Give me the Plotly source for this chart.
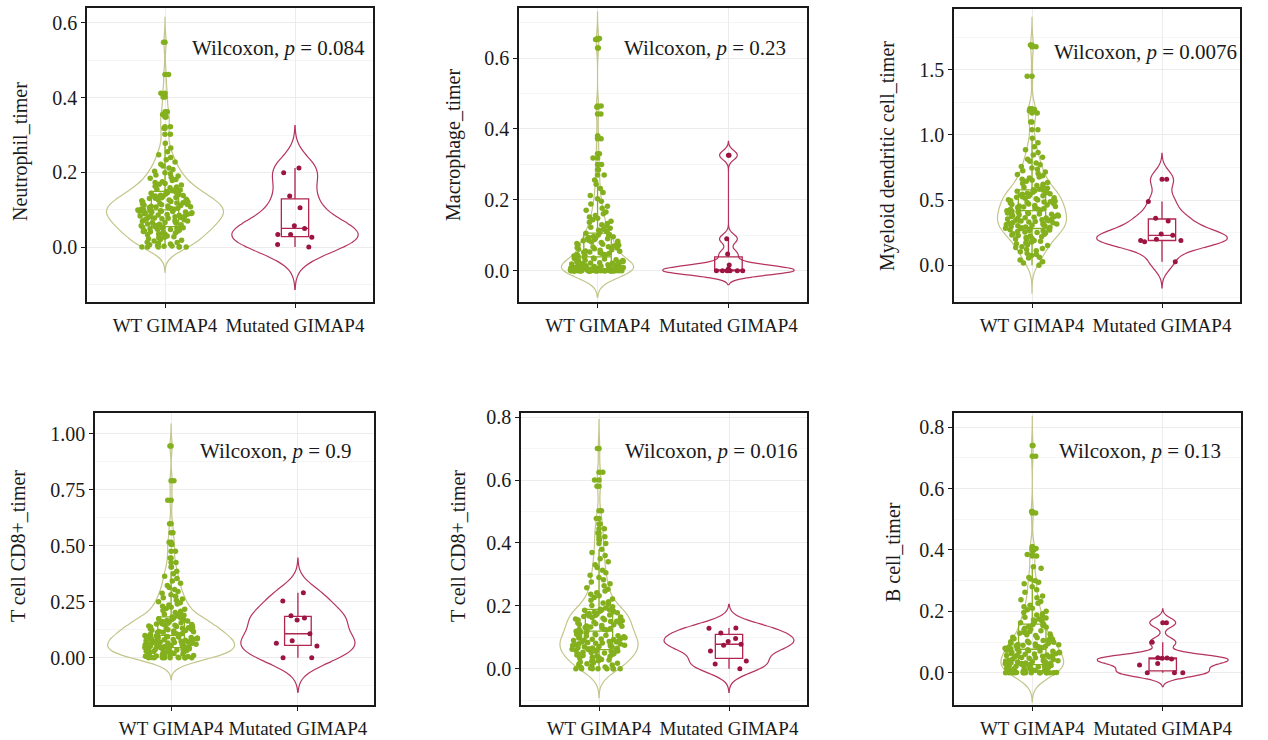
import numpy as np
import plotly.graph_objects as go

# ---------------- data ----------------
groups = ["WT GIMAP4", "Mutated GIMAP4"]
titles = ["Neutrophil_timer", "Macrophage_timer", "Myeloid dendritic cell_timer",
          "T cell CD8+_timer", "T cell CD8+_timer", "B cell_timer"]
pvalues = ["0.084", "0.23", "0.0076", "0.9", "0.016", "0.13"]

neutrophil_wt = [0, 0, 0, 0, 0, 0.001, 0.002, 0.003, 0.004, 0.006, 0.008, 0.01, 0.012, 0.013, 0.016,
                 0.018, 0.02, 0.022, 0.025, 0.026, 0.028, 0.03, 0.031, 0.033, 0.035, 0.036, 0.038, 0.039,
                 0.041, 0.042, 0.043, 0.044, 0.046, 0.047, 0.048, 0.049, 0.05, 0.051, 0.052, 0.053, 0.054,
                 0.054, 0.055, 0.057, 0.058, 0.06, 0.061, 0.062, 0.064, 0.065, 0.066, 0.067, 0.069, 0.07,
                 0.071, 0.072, 0.073, 0.075, 0.076, 0.077, 0.078, 0.079, 0.08, 0.081, 0.082, 0.083, 0.084,
                 0.085, 0.086, 0.087, 0.088, 0.089, 0.09, 0.091, 0.092, 0.093, 0.094, 0.095, 0.096, 0.096,
                 0.097, 0.098, 0.098, 0.099, 0.099, 0.1, 0.101, 0.102, 0.103, 0.104, 0.105, 0.106, 0.107,
                 0.108, 0.109, 0.11, 0.111, 0.112, 0.113, 0.114, 0.116, 0.117, 0.118, 0.119, 0.12, 0.121,
                 0.122, 0.124, 0.125, 0.126, 0.127, 0.128, 0.13, 0.131, 0.132, 0.133, 0.135, 0.136, 0.137,
                 0.138, 0.139, 0.141, 0.142, 0.143, 0.144, 0.146, 0.147, 0.149, 0.151, 0.153, 0.155, 0.157,
                 0.159, 0.161, 0.163, 0.166, 0.168, 0.17, 0.173, 0.175, 0.178, 0.181, 0.184, 0.187, 0.19,
                 0.193, 0.196, 0.199, 0.203, 0.208, 0.212, 0.217, 0.222, 0.228, 0.234, 0.24, 0.247, 0.255,
                 0.265, 0.278, 0.302, 0.318, 0.322, 0.348, 0.355, 0.362, 0.402, 0.412, 0.462, 0.548]
neutrophil_mut = [0.0, 0.007, 0.026, 0.034, 0.034, 0.05, 0.057, 0.105, 0.137, 0.199, 0.212]

macrophage_wt = [0, 0, 0, 0, 0, 0, 0, 0, 0, 0, 0, 0, 0, 0, 0, 0, 0, 0, 0, 0, 0, 0, 0, 0, 0, 0, 0, 0,
                 0, 0, 0, 0, 0, 0, 0, 0, 0.001, 0.001, 0.001, 0.002, 0.002, 0.002, 0.003, 0.003, 0.004,
                 0.004, 0.005, 0.005, 0.006, 0.006, 0.007, 0.008, 0.008, 0.009, 0.01, 0.01, 0.011, 0.012,
                 0.012, 0.013, 0.014, 0.015, 0.016, 0.017, 0.018, 0.019, 0.02, 0.021, 0.022, 0.023, 0.024,
                 0.025, 0.026, 0.028, 0.029, 0.03, 0.031, 0.033, 0.034, 0.035, 0.036, 0.038, 0.039, 0.04,
                 0.042, 0.043, 0.045, 0.046, 0.047, 0.049, 0.05, 0.052, 0.053, 0.055, 0.056, 0.058, 0.059,
                 0.061, 0.062, 0.064, 0.065, 0.067, 0.068, 0.07, 0.072, 0.073, 0.075, 0.077, 0.078, 0.08,
                 0.081, 0.083, 0.085, 0.086, 0.088, 0.09, 0.091, 0.093, 0.094, 0.096, 0.097, 0.099, 0.101,
                 0.103, 0.106, 0.108, 0.111, 0.114, 0.117, 0.12, 0.123, 0.126, 0.13, 0.133, 0.137, 0.14,
                 0.144, 0.148, 0.152, 0.156, 0.161, 0.166, 0.171, 0.176, 0.182, 0.188, 0.196, 0.203, 0.212,
                 0.221, 0.232, 0.244, 0.256, 0.27, 0.285, 0.3, 0.318, 0.33, 0.372, 0.38, 0.442, 0.462,
                 0.465, 0.628, 0.652, 0.655]
macrophage_mut = [0.0, 0.0, 0.0, 0.0, 0.0, 0.0, 0.005, 0.016, 0.047, 0.09, 0.326]

mdc_wt = [0, 0.018, 0.027, 0.041, 0.055, 0.062, 0.074, 0.083, 0.091, 0.104, 0.112, 0.121, 0.128, 0.137,
          0.143, 0.151, 0.158, 0.166, 0.171, 0.178, 0.184, 0.19, 0.196, 0.201, 0.207, 0.213, 0.218, 0.224,
          0.229, 0.233, 0.238, 0.242, 0.247, 0.251, 0.255, 0.259, 0.263, 0.267, 0.27, 0.273, 0.276, 0.279,
          0.282, 0.285, 0.288, 0.291, 0.294, 0.297, 0.301, 0.304, 0.307, 0.31, 0.313, 0.316, 0.32, 0.323,
          0.326, 0.329, 0.333, 0.336, 0.339, 0.342, 0.346, 0.349, 0.352, 0.355, 0.359, 0.362, 0.365,
          0.368, 0.372, 0.375, 0.378, 0.381, 0.385, 0.388, 0.391, 0.394, 0.398, 0.401, 0.404, 0.408,
          0.411, 0.414, 0.418, 0.421, 0.425, 0.429, 0.432, 0.436, 0.44, 0.443, 0.447, 0.451, 0.455, 0.458,
          0.462, 0.466, 0.47, 0.473, 0.477, 0.481, 0.485, 0.488, 0.492, 0.496, 0.5, 0.503, 0.507, 0.511,
          0.515, 0.519, 0.522, 0.526, 0.53, 0.534, 0.538, 0.542, 0.545, 0.549, 0.553, 0.557, 0.561, 0.565,
          0.569, 0.572, 0.576, 0.579, 0.584, 0.591, 0.598, 0.606, 0.613, 0.621, 0.628, 0.636, 0.644,
          0.652, 0.661, 0.669, 0.678, 0.687, 0.696, 0.705, 0.715, 0.725, 0.736, 0.747, 0.759, 0.771,
          0.784, 0.798, 0.813, 0.829, 0.846, 0.865, 0.886, 0.91, 0.94, 0.975, 1.04, 1.1, 1.168, 1.178,
          1.186, 1.195, 1.201, 1.45, 1.678, 1.69]
mdc_mut = [0.026, 0.18, 0.19, 0.19, 0.2, 0.23, 0.24, 0.34, 0.36, 0.49, 0.66]

cd8a_wt = [0, 0, 0, 0, 0, 0, 0, 0, 0, 0.001, 0.002, 0.003, 0.005, 0.007, 0.008, 0.01, 0.011, 0.013,
           0.014, 0.016, 0.017, 0.019, 0.02, 0.021, 0.023, 0.024, 0.025, 0.027, 0.028, 0.029, 0.031,
           0.032, 0.033, 0.034, 0.036, 0.037, 0.038, 0.039, 0.04, 0.042, 0.043, 0.044, 0.045, 0.046,
           0.048, 0.049, 0.05, 0.052, 0.053, 0.054, 0.056, 0.057, 0.058, 0.06, 0.061, 0.062, 0.064, 0.065,
           0.066, 0.068, 0.069, 0.07, 0.072, 0.073, 0.074, 0.076, 0.077, 0.078, 0.08, 0.081, 0.082, 0.084,
           0.085, 0.086, 0.088, 0.089, 0.09, 0.092, 0.093, 0.094, 0.095, 0.096, 0.097, 0.098, 0.099,
           0.101, 0.103, 0.105, 0.107, 0.108, 0.11, 0.112, 0.114, 0.116, 0.117, 0.119, 0.121, 0.123,
           0.125, 0.126, 0.128, 0.13, 0.132, 0.134, 0.135, 0.137, 0.139, 0.141, 0.143, 0.145, 0.146,
           0.148, 0.15, 0.152, 0.154, 0.156, 0.158, 0.16, 0.162, 0.164, 0.166, 0.168, 0.17, 0.172, 0.174,
           0.176, 0.178, 0.182, 0.186, 0.19, 0.194, 0.198, 0.202, 0.207, 0.211, 0.216, 0.22, 0.225, 0.23,
           0.235, 0.24, 0.245, 0.25, 0.256, 0.262, 0.268, 0.274, 0.281, 0.288, 0.296, 0.304, 0.313, 0.322,
           0.332, 0.342, 0.353, 0.364, 0.375, 0.386, 0.405, 0.425, 0.445, 0.475, 0.505, 0.515, 0.558,
           0.598, 0.703, 0.79, 0.945]
cd8a_mut = [0.0, 0.0, 0.052, 0.065, 0.076, 0.107, 0.168, 0.177, 0.187, 0.253, 0.29]

cd8b_wt = [0, 0, 0, 0, 0, 0, 0, 0, 0.002, 0.004, 0.006, 0.009, 0.012, 0.014, 0.016, 0.018, 0.02, 0.022,
           0.024, 0.026, 0.028, 0.03, 0.032, 0.034, 0.035, 0.037, 0.039, 0.041, 0.042, 0.044, 0.046, 0.047,
           0.049, 0.05, 0.052, 0.053, 0.055, 0.056, 0.057, 0.058, 0.059, 0.06, 0.061, 0.062, 0.064, 0.065,
           0.066, 0.067, 0.069, 0.07, 0.071, 0.072, 0.074, 0.075, 0.076, 0.077, 0.079, 0.08, 0.081, 0.082,
           0.084, 0.085, 0.086, 0.087, 0.089, 0.09, 0.091, 0.093, 0.094, 0.095, 0.097, 0.098, 0.099,
           0.101, 0.102, 0.104, 0.105, 0.107, 0.108, 0.11, 0.111, 0.113, 0.115, 0.117, 0.119, 0.121,
           0.123, 0.125, 0.126, 0.128, 0.13, 0.131, 0.133, 0.135, 0.136, 0.138, 0.14, 0.141, 0.143, 0.145,
           0.146, 0.148, 0.15, 0.151, 0.153, 0.155, 0.156, 0.158, 0.16, 0.161, 0.163, 0.165, 0.166, 0.168,
           0.17, 0.171, 0.173, 0.175, 0.176, 0.178, 0.18, 0.181, 0.183, 0.184, 0.186, 0.187, 0.188, 0.189,
           0.193, 0.197, 0.201, 0.205, 0.209, 0.213, 0.218, 0.222, 0.227, 0.232, 0.237, 0.242, 0.247,
           0.253, 0.258, 0.264, 0.27, 0.276, 0.283, 0.29, 0.297, 0.305, 0.313, 0.322, 0.331, 0.34, 0.35,
           0.36, 0.37, 0.38, 0.398, 0.41, 0.42, 0.432, 0.445, 0.46, 0.478, 0.502, 0.58, 0.6, 0.625, 0.7]
cd8b_mut = [0.0, 0.015, 0.025, 0.057, 0.075, 0.078, 0.087, 0.096, 0.114, 0.129, 0.13]

bcell_wt = [0, 0, 0, 0, 0, 0, 0, 0, 0, 0, 0, 0, 0, 0, 0.001, 0.001, 0.002, 0.003, 0.004, 0.005, 0.006,
            0.007, 0.008, 0.009, 0.01, 0.011, 0.012, 0.013, 0.014, 0.015, 0.016, 0.017, 0.018, 0.019,
            0.02, 0.021, 0.022, 0.023, 0.024, 0.025, 0.026, 0.027, 0.028, 0.029, 0.03, 0.031, 0.032,
            0.033, 0.034, 0.035, 0.036, 0.037, 0.038, 0.039, 0.04, 0.041, 0.043, 0.045, 0.047, 0.049,
            0.05, 0.051, 0.052, 0.054, 0.055, 0.056, 0.057, 0.058, 0.06, 0.061, 0.062, 0.063, 0.065,
            0.066, 0.067, 0.068, 0.07, 0.071, 0.072, 0.073, 0.075, 0.076, 0.077, 0.078, 0.08, 0.081,
            0.082, 0.083, 0.085, 0.086, 0.087, 0.088, 0.09, 0.091, 0.092, 0.094, 0.095, 0.096, 0.098,
            0.099, 0.101, 0.103, 0.105, 0.107, 0.109, 0.111, 0.114, 0.116, 0.119, 0.121, 0.124, 0.126,
            0.129, 0.131, 0.134, 0.137, 0.14, 0.142, 0.145, 0.148, 0.151, 0.154, 0.157, 0.16, 0.163,
            0.166, 0.169, 0.172, 0.175, 0.178, 0.181, 0.185, 0.188, 0.192, 0.196, 0.2, 0.205, 0.21, 0.215,
            0.22, 0.226, 0.232, 0.238, 0.244, 0.25, 0.262, 0.27, 0.28, 0.29, 0.295, 0.3, 0.305, 0.31,
            0.34, 0.345, 0.38, 0.385, 0.4, 0.405, 0.41, 0.52, 0.525, 0.705, 0.74]
bcell_mut = [0.0, 0.0, 0.0, 0.025, 0.03, 0.045, 0.047, 0.048, 0.049, 0.099, 0.163]

panel_data = [(neutrophil_wt, neutrophil_mut), (macrophage_wt, macrophage_mut), (mdc_wt, mdc_mut),
              (cd8a_wt, cd8a_mut), (cd8b_wt, cd8b_mut), (bcell_wt, bcell_mut)]

# ---------------- layout / style ----------------
W, H = 1268, 740
FONT = "Liberation Serif"
TXT = "#1a1a1a"
plot_px = [(87, 8, 373, 302), (519, 8, 807, 302), (954, 9, 1240, 302),
           (95, 413, 374, 705), (521, 413, 807, 705), (954, 413, 1241, 705)]
yranges = [(-0.147, 0.64), (-0.088, 0.741), (-0.282, 1.967),
           (-0.211, 1.092), (-0.115, 0.813), (-0.105, 0.846)]
ydtick = [0.2, 0.2, 0.5, 0.25, 0.2, 0.2]
yfmt = [".1f", ".1f", ".1f", ".2f", ".1f", ".1f"]
vwidth = [(0.9, 0.97), (0.55, 1.0), (0.53, 1.0), (1.0, 0.9), (0.6, 1.0), (0.48, 1.0)]
ytitle_px = [(20, 152), (453, 145), (887, 156), (18, 546), (458, 546), (893, 552)]
ptext_px = [(190, 48), (622, 48), (1052, 52), (198, 451), (623, 451), (1057, 451)]

pt_color = ["#84b01e", "#9c1442"]
vio_line = ["#c3c58a", "#b5345d"]
box_line = ["#84b01e", "#b0264f"]
JIT_HALF = 0.21    # half-width of jitter, in category units
BOX_W = 0.21       # box width, in category units


def nrd0(v):
    v = np.asarray(v, dtype=float)
    sd = v.std(ddof=1)
    q75, q25 = np.percentile(v, [75, 25])
    lo = min(sd, (q75 - q25) / 1.34)
    if lo <= 0:
        lo = sd if sd > 0 else 1.0
    return 0.9 * lo * len(v) ** (-0.2)


fig = go.Figure()
annotations = []
for i in range(6):
    xa = "x" if i == 0 else f"x{i + 1}"
    ya = "y" if i == 0 else f"y{i + 1}"
    for g in range(2):
        vals = panel_data[i][g]
        w = vwidth[i][g]
        bw = nrd0(vals)
        span = [min(vals) - 3 * bw, max(vals) + 3 * bw]
        common = dict(y=vals, x0=groups[g], xaxis=xa, yaxis=ya, width=w, scalemode="width",
                      bandwidth=bw, spanmode="manual", span=span, showlegend=False,
                      hoverinfo="skip", pointpos=0,
                      marker=dict(color=pt_color[g], size=5.5 if g == 0 else 5, line=dict(width=0)))
        fig.add_trace(go.Violin(
            **common, points="all", jitter=min(1.0, JIT_HALF / (w / 2)),
            line=dict(color=vio_line[g], width=1.2), fillcolor="rgba(255,255,255,0)",
            box=dict(visible=True, width=BOX_W / w, fillcolor="rgba(255,255,255,0)",
                     line=dict(color=box_line[g], width=1.3)),
            meanline=dict(visible=False)))
        # outliers drawn at the centre (as geom_boxplot does)
        fig.add_trace(go.Violin(
            **common, points="outliers", jitter=0,
            line=dict(color="rgba(0,0,0,0)", width=0), fillcolor="rgba(0,0,0,0)",
            box=dict(visible=False), meanline=dict(visible=False)))

    x0, y0, x1, y1 = plot_px[i]
    xdom = [x0 / W, x1 / W]
    ydom = [1 - y1 / H, 1 - y0 / H]
    axis_common = dict(showline=True, mirror=True, linecolor="#1a1a1a", linewidth=1.5,
                       ticks="outside", ticklen=4, tickwidth=1.2, tickcolor="#1a1a1a",
                       tickfont=dict(family=FONT, size=20, color=TXT), automargin=False,
                       showgrid=True, gridcolor="#ececec", gridwidth=1, zeroline=False)
    fig.layout[f"xaxis{'' if i == 0 else i + 1}"] = dict(
        **{**axis_common, "tickfont": dict(family=FONT, size=19, color=TXT)},
        domain=xdom, anchor=ya, type="category", categoryorder="array",
        categoryarray=groups, range=[-0.6, 1.6], tickangle=0, ticklabelstandoff=1)
    fig.layout[f"yaxis{'' if i == 0 else i + 1}"] = dict(
        **axis_common, domain=ydom, anchor=xa, range=list(yranges[i]), tickmode="linear",
        tick0=0, dtick=ydtick[i], tickformat=yfmt[i],
        minor=dict(dtick=ydtick[i] / 2, tick0=0, showgrid=True, gridcolor="#f5f5f5", ticks=""))

    tx, ty = ytitle_px[i]
    annotations.append(dict(text=titles[i], x=tx / W, y=1 - ty / H, xref="paper", yref="paper",
                            textangle=-90, showarrow=False, xanchor="center", yanchor="middle",
                            font=dict(family=FONT, size=20, color=TXT)))
    px_, py_ = ptext_px[i]
    annotations.append(dict(text=f"Wilcoxon, <i>p</i> = {pvalues[i]}", x=px_ / W, y=1 - py_ / H,
                            xref="paper", yref="paper", showarrow=False, xanchor="left",
                            yanchor="middle", font=dict(family=FONT, size=21, color=TXT)))

fig.update_layout(width=W, height=H, margin=dict(l=0, r=0, t=0, b=0),
                  paper_bgcolor="white", plot_bgcolor="white", violinmode="overlay",
                  showlegend=False, annotations=annotations)

fig.write_html("out.html", config={"displayModeBar": False},
               post_script="document.body.style.margin='0px';")
